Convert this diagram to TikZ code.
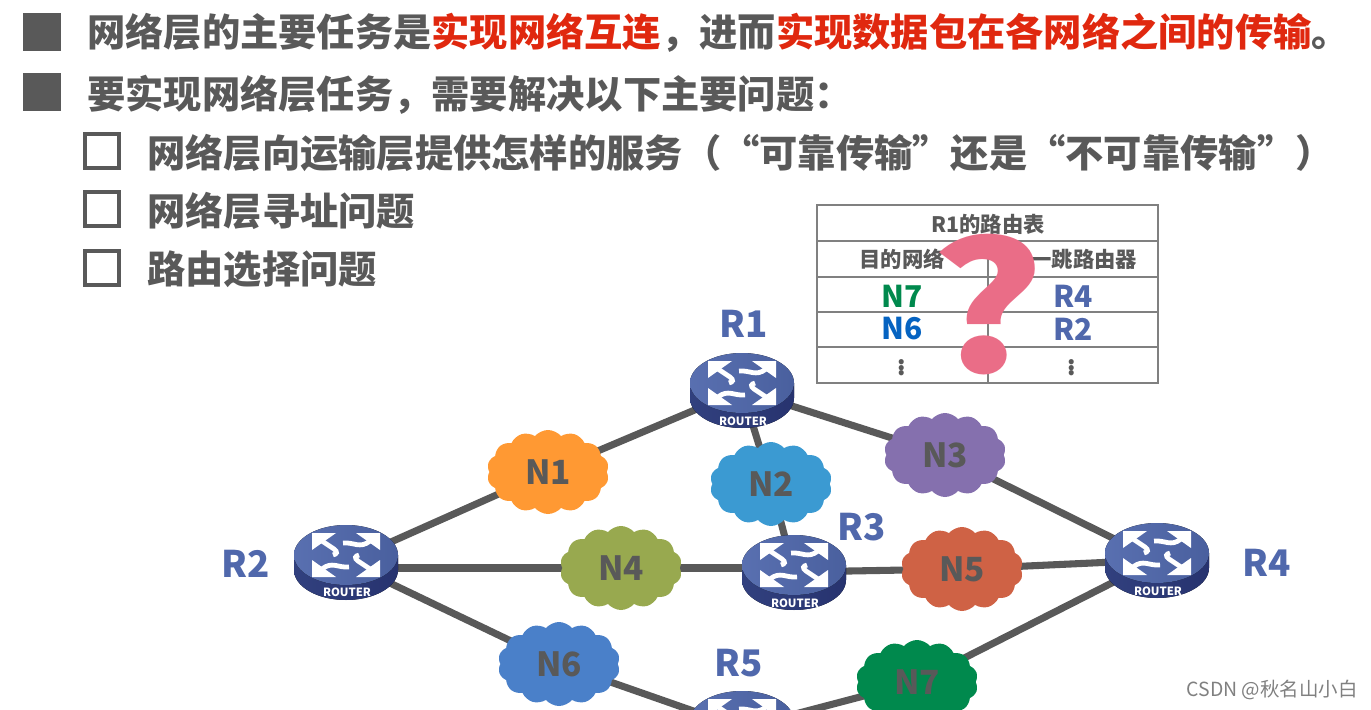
\documentclass[tikz,border=0pt]{standalone}
\usepackage{fontspec}
\usepackage{xcolor}
\setmainfont{Noto Sans CJK SC}
\usetikzlibrary{arrows.meta,backgrounds,shapes.symbols}

\definecolor{textgray}{HTML}{595959}
\definecolor{keyred}{HTML}{E0280F}
\definecolor{routerblue}{HTML}{5068AC}
\definecolor{routerdark}{HTML}{27336F}
\definecolor{rulegray}{HTML}{808080}
\definecolor{askpink}{HTML}{EA6D87}
\definecolor{netgreen}{HTML}{00894D}
\definecolor{netblue}{HTML}{0563C1}

\tikzset{
  linetext/.style={anchor=west, inner sep=0pt, text=textgray, font=\fontsize{28.7}{32}\selectfont\bfseries},
  fullbox/.style={fill=textgray, minimum size=28.5pt, inner sep=0pt},
  openbox/.style={draw=textgray, line width=3pt, minimum size=25.5pt, inner sep=0pt},
  netcloud/.style={cloud, cloud puffs=14, cloud puff arc=100, cloud ignores aspect, minimum width=91.5pt, minimum height=63pt, inner sep=0pt, text=textgray, font=\fontsize{25}{28}\selectfont\bfseries},
  routerbox/.style={minimum width=76pt, minimum height=56pt, inner sep=0pt},
  routername/.style={text=routerblue, font=\fontsize{27.5}{30}\selectfont\bfseries},
  routertag/.style={text=white, inner sep=0pt, font=\fontsize{8.5}{9}\selectfont\bfseries},
  link/.style={draw=textgray, line width=5.3pt},
  tabletext/.style={text=textgray, font=\fontsize{16}{18}\selectfont\bfseries},
  tablename/.style={font=\fontsize{22.5}{24}\selectfont\bfseries},
  tablerule/.style={draw=rulegray, line width=1.2pt},
  routerpic/.pic={
    % body
    \fill[left color=routerdark!75!routerblue, right color=routerdark] (-52,-7) -- (-52,8) arc[start angle=180, end angle=0, x radius=52, y radius=30] -- (52,-7) -- cycle;
    \fill[left color=routerblue!95!white, right color=routerblue!92!black] (0,-7) ellipse[x radius=52, y radius=30];
    % arrows
    \foreach \r in {0,180}{
      \begin{scope}[shift={(0,-7)}, rotate=\r]
        \fill[white] (34,-22) -- (10,-22) -- (34,-5) -- cycle;
        \draw[white, line width=3.6pt] (24,-14) .. controls (14,-6) and (8,-13) .. (-3,-12);
        \fill[white] (-34,-22) -- (-10,-22) -- (-34,-5) -- cycle;
        \draw[white, line width=3.6pt] (-24,-14) -- (-12,-6) .. controls (-8,-3) and (-9,-1) .. (-13,0);
      \end{scope}
    }
  }
}

\begin{document}
\begin{tikzpicture}[x=0.75pt, y=-0.75pt]
\useasboundingbox (0,0) rectangle (1371,710);

% bullets and lines
\node[fullbox] (b1) at (42,32) {};
\node[fullbox] (b2) at (42,92) {};
\node[openbox] (s1) at (102,151) {};
\node[openbox] (s2) at (102,209) {};
\node[openbox] (s3) at (102,268) {};

\node[linetext] (l1) at (87,33) {网络层的主要任务是\textcolor{keyred}{实现网络互连}，进而\textcolor{keyred}{实现数据包在各网络之间的传输}。};
\node[linetext] (l2) at (87,95) {要实现网络层任务，需要解决以下主要问题：};
\node[linetext] (l3) at (147,153) {网络层向运输层提供怎样的服务（“可靠传输”还是“不可靠传输”）};
\node[linetext] (l4) at (147,211) {网络层寻址问题};
\node[linetext] (l5) at (147,269) {路由选择问题};

% routing table
\draw[tablerule] (817,205) rectangle (1158,383);
\foreach \y in {241,277,312,347} \draw[tablerule] (817,\y) -- (1158,\y);
\draw[tablerule] (988,241) -- (988,383);
\node[tabletext] (t0) at (988,224) {R1的路由表};
\node[tabletext] (t1) at (902,259) {目的网络};
\node[tabletext] (t2) at (1073,259) {下一跳路由器};
\node[tablename, text=netgreen] (t3) at (902,296) {N7};
\node[tablename, text=netblue] (t4) at (902,329) {N6};
\node[tablename, text=routerblue] (t5) at (1073,296) {R4};
\node[tablename, text=routerblue] (t6) at (1073,329) {R2};
\node[tabletext, font=\fontsize{18}{20}\selectfont\bfseries] (t7) at (902,364) {$\vdots$};
\node[tabletext, font=\fontsize{18}{20}\selectfont\bfseries] (t8) at (1072,364) {$\vdots$};
\node[text=askpink, inner sep=0pt, transform shape, xscale=1.22, font=\fontsize{133}{137}\selectfont\bfseries] (ask) at (987,305) {?};

% clouds
\node[netcloud, fill={rgb,255:red,255;green,153;blue,51}] (N1) at (548,472) {N1};
\node[netcloud, fill={rgb,255:red,59;green,154;blue,210}] (N2) at (771,484) {N2};
\node[netcloud, fill={rgb,255:red,133;green,112;blue,174}] (N3) at (945,455) {N3};
\node[netcloud, fill={rgb,255:red,152;green,169;blue,79}] (N4) at (621,568) {N4};
\node[netcloud, fill={rgb,255:red,207;green,98;blue,69}] (N5) at (962,569) {N5};
\node[netcloud, fill={rgb,255:red,74;green,128;blue,201}] (N6) at (559,664) {N6};
\node[netcloud, fill=netgreen] (N7) at (917,682) {N7};

% routers
\node[routerbox] (R1) at (742,390) {};
\node[routerbox] (R2) at (346,562) {};
\node[routerbox] (R3) at (794,572) {};
\node[routerbox] (R4) at (1157,560) {};
\node[routerbox] (R5) at (742,728) {};
\pic (pR1) at (R1) {routerpic};
\pic (pR2) at (R2) {routerpic};
\pic (pR3) at (R3) {routerpic};
\pic (pR4) at (R4) {routerpic};
\pic (pR5) at (R5) {routerpic};

\node[routertag] (tR1) at (743,421) {ROUTER};
\node[routertag] (tR2) at (347,592) {ROUTER};
\node[routertag] (tR3) at (795,603) {ROUTER};
\node[routertag] (tR4) at (1158,591) {ROUTER};

\node[routername] (nR1) at (744,324) {R1};
\node[routername] (nR2) at (246,564) {R2};
\node[routername] (nR3) at (862,527) {R3};
\node[routername] (nR4) at (1267,563) {R4};
\node[routername] (nR5) at (739,663) {R5};

% links
\begin{scope}[on background layer]
\draw[link] (R2.center) -- (N1.center);
\draw[link] (N1.center) -- (R1.center);
\draw[link] (R1.center) -- (N2.center);
\draw[link] (N2.center) -- (R3.center);
\draw[link] (R1.center) -- (N3.center);
\draw[link] (N3.center) -- (R4.center);
\draw[link] (R2 |- N4) -- (N4.center);
\draw[link] (N4.center) -- (N4 -| R3);
\draw[link] (R3.center) -- (N5.center);
\draw[link] (N5.center) -- (R4.center);
\draw[link] (R2.center) -- (N6.center);
\draw[link] (N6.center) -- (R5.center);
\draw[link] (R5.center) -- (N7.center);
\draw[link] (N7.center) -- (R4.center);
\end{scope}

% watermark
\node[text=gray, inner sep=0pt, anchor=east, font=\fontsize{14.6}{16}\selectfont] (mark) at (1358,690) {CSDN @秋名山小白};
\end{tikzpicture}
\end{document}
